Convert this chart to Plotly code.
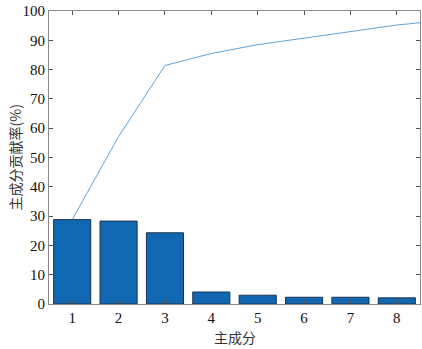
import numpy as np
import plotly.graph_objects as go

components = [1, 2, 3, 4, 5, 6, 7, 8, 9]
contrib = [28.8, 28.3, 24.3, 4.1, 3.0, 2.3, 2.3, 2.1, 1.6]
cumulative = list(np.cumsum(contrib))
shown = 8
tick_vals = [1, 2, 3, 4, 5, 6, 7, 8]
y_ticks = [0, 10, 20, 30, 40, 50, 60, 70, 80, 90, 100]
x_title = "主成分"
y_title = "主成分贡献率(%)"

fig = go.Figure()
fig.add_trace(go.Bar(
    x=components[:shown], y=contrib[:shown], width=0.8,
    marker=dict(color="#1167b1", line=dict(color="#1a3550", width=1)),
))
fig.add_trace(go.Scatter(
    x=components, y=cumulative, mode="lines",
    line=dict(color="#5ea4da", width=1),
))

axis_common = dict(
    showline=True, linecolor="#8a8a8a", linewidth=1, mirror="ticks",
    ticks="inside", ticklen=4, tickcolor="#555555", showgrid=False, zeroline=False,
    automargin=False,
    tickfont=dict(family="Liberation Serif, Times New Roman, serif", size=15, color="#111111"),
)
fig.update_xaxes(range=[0.5, 8.5], tickvals=tick_vals, **axis_common)
fig.update_yaxes(range=[0, 100], tickvals=y_ticks, **axis_common)

title_font = dict(family="Noto Sans CJK SC, sans-serif", size=14, color="#333333")
fig.add_annotation(text=x_title, xref="paper", yref="paper", x=0.5, y=0,
                   xanchor="center", yanchor="middle",
                   yshift=-33, showarrow=False, font=title_font)
fig.add_annotation(text=y_title, xref="paper", yref="paper", x=0, y=0.5,
                   xanchor="center", yanchor="middle",
                   xshift=-35, textangle=-90, showarrow=False, font=title_font)
fig.update_layout(
    width=422, height=349, margin=dict(l=49, r=2, t=11, b=45),
    plot_bgcolor="white", paper_bgcolor="white", showlegend=False, bargap=0.2,
)
fig.write_html("out.html", config={"displayModeBar": False},
               post_script="document.body.style.margin='0';document.body.style.overflow='hidden';")
